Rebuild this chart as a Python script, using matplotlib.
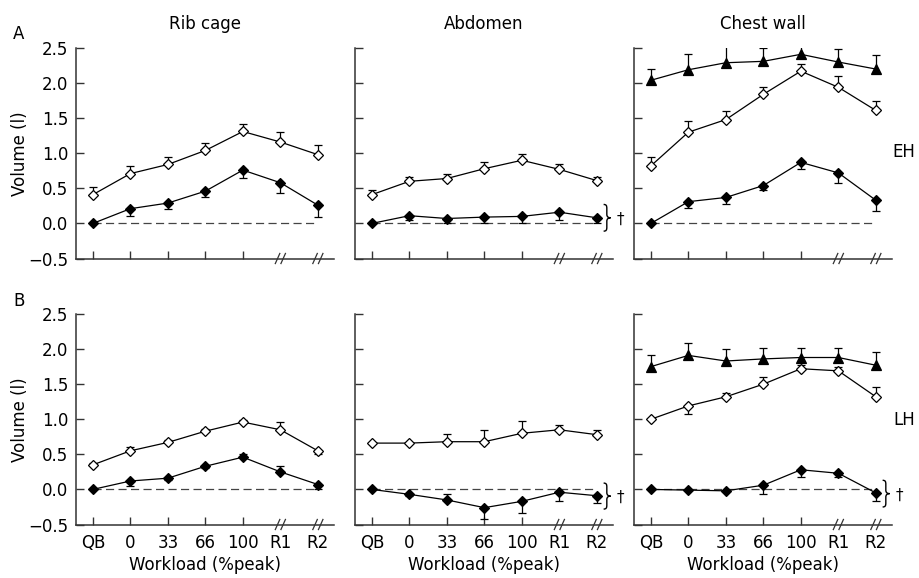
import numpy as np
import matplotlib.pyplot as plt
import matplotlib.transforms as mtransforms
from matplotlib.path import Path
from matplotlib.patches import PathPatch

plt.rcParams['font.family'] = ['DejaVu Sans']
plt.rcParams['font.size'] = 12

workload = ['QB', '0', '33', '66', '100', 'R1', 'R2']
columns = ['Rib cage', 'Abdomen', 'Chest wall']

# --- EH (row A) ---
eh_rc_open = [0.41, 0.71, 0.84, 1.04, 1.31, 1.16, 0.98]
eh_rc_open_up = [0.11, 0.11, 0.11, 0.11, 0.11, 0.14, 0.14]
eh_rc_fill = [0.0, 0.21, 0.29, 0.46, 0.76, 0.58, 0.26]
eh_rc_fill_dn = [0.0, 0.10, 0.08, 0.08, 0.11, 0.15, 0.17]

eh_ab_open = [0.41, 0.60, 0.64, 0.78, 0.90, 0.77, 0.61]
eh_ab_open_up = [0.06, 0.06, 0.07, 0.10, 0.09, 0.08, 0.05]
eh_ab_fill = [0.0, 0.11, 0.07, 0.09, 0.10, 0.16, 0.08]
eh_ab_fill_dn = [0.0, 0.06, 0.07, 0.09, 0.09, 0.11, 0.08]

eh_cw_tri = [2.04, 2.19, 2.29, 2.31, 2.41, 2.30, 2.20]
eh_cw_tri_up = [0.16, 0.22, 0.24, 0.19, 0.17, 0.18, 0.20]
eh_cw_open = [0.82, 1.30, 1.48, 1.84, 2.17, 1.94, 1.61]
eh_cw_open_up = [0.12, 0.16, 0.12, 0.11, 0.10, 0.16, 0.13]
eh_cw_fill = [0.0, 0.31, 0.37, 0.54, 0.87, 0.72, 0.33]
eh_cw_fill_dn = [0.0, 0.09, 0.09, 0.07, 0.10, 0.14, 0.16]

# --- LH (row B) ---
lh_rc_open = [0.35, 0.55, 0.67, 0.83, 0.96, 0.85, 0.55]
lh_rc_open_up = [0.02, 0.06, 0.03, 0.03, 0.03, 0.11, 0.0]
lh_rc_open_dn = [0.0, 0.0, 0.0, 0.0, 0.0, 0.0, 0.05]
lh_rc_fill = [0.0, 0.12, 0.16, 0.33, 0.46, 0.25, 0.07]
lh_rc_fill_up = [0.0, 0.0, 0.0, 0.0, 0.04, 0.09, 0.0]
lh_rc_fill_dn = [0.0, 0.07, 0.03, 0.03, 0.0, 0.0, 0.07]

lh_ab_open = [0.66, 0.66, 0.68, 0.68, 0.80, 0.85, 0.78]
lh_ab_open_up = [0.0, 0.0, 0.11, 0.16, 0.18, 0.07, 0.07]
lh_ab_fill = [0.0, -0.07, -0.15, -0.26, -0.17, -0.04, -0.09]
lh_ab_fill_up = [0.0, 0.0, 0.09, 0.0, 0.0, 0.0, 0.0]
lh_ab_fill_dn = [0.0, 0.03, 0.0, 0.16, 0.17, 0.13, 0.11]

lh_cw_tri = [1.75, 1.91, 1.83, 1.86, 1.88, 1.88, 1.77]
lh_cw_tri_up = [0.16, 0.17, 0.17, 0.16, 0.14, 0.14, 0.19]
lh_cw_open = [1.00, 1.19, 1.32, 1.50, 1.72, 1.69, 1.32]
lh_cw_open_up = [0.0, 0.0, 0.06, 0.10, 0.06, 0.06, 0.14]
lh_cw_open_dn = [0.0, 0.11, 0.0, 0.0, 0.0, 0.0, 0.0]
lh_cw_fill = [0.0, -0.01, -0.02, 0.06, 0.28, 0.23, -0.05]
lh_cw_fill_dn = [0.0, 0.0, 0.0, 0.12, 0.11, 0.06, 0.12]

# significance braces: (row, col, top, bottom)
braces = [(0, 1, 0.27, -0.11), (1, 1, 0.09, -0.28), (1, 2, 0.13, -0.25)]

zero = [0.0] * 7
# series per panel: (values, err_down, err_up, marker, face)
panels = {
    (0, 0): [(eh_rc_open, zero, eh_rc_open_up, 'D', 'white'),
             (eh_rc_fill, eh_rc_fill_dn, zero, 'D', 'black')],
    (0, 1): [(eh_ab_open, zero, eh_ab_open_up, 'D', 'white'),
             (eh_ab_fill, eh_ab_fill_dn, zero, 'D', 'black')],
    (0, 2): [(eh_cw_tri, zero, eh_cw_tri_up, '^', 'black'),
             (eh_cw_open, zero, eh_cw_open_up, 'D', 'white'),
             (eh_cw_fill, eh_cw_fill_dn, zero, 'D', 'black')],
    (1, 0): [(lh_rc_open, lh_rc_open_dn, lh_rc_open_up, 'D', 'white'),
             (lh_rc_fill, lh_rc_fill_dn, lh_rc_fill_up, 'D', 'black')],
    (1, 1): [(lh_ab_open, zero, lh_ab_open_up, 'D', 'white'),
             (lh_ab_fill, lh_ab_fill_dn, lh_ab_fill_up, 'D', 'black')],
    (1, 2): [(lh_cw_tri, zero, lh_cw_tri_up, '^', 'black'),
             (lh_cw_open, lh_cw_open_dn, lh_cw_open_up, 'D', 'white'),
             (lh_cw_fill, lh_cw_fill_dn, zero, 'D', 'black')],
}

W, H = 919, 578
fig = plt.figure(figsize=(W / 100, H / 100), dpi=100)

col_left = [76, 355, 634]
row_top = [48, 314]
ax_w, ax_h = 258, 210.5
x = np.arange(7)


def draw_series(ax, y, dn, up, marker, face):
    y, dn, up = np.array(y), np.array(dn), np.array(up)
    for err, sign in ((up, 1), (dn, -1)):
        m = err > 0
        ends = y[m] + sign * err[m]
        ax.vlines(x[m], y[m], ends, color='black', lw=0.9, zorder=2)
        ax.plot(x[m], ends, ls='none', marker='_', ms=6, mew=0.9,
                color='black', zorder=2)
    ms = 6.5 if marker == '^' else 4.6
    ax.plot(x, y, color='black', lw=0.9, marker=marker, ms=ms,
            mfc=face, mec='black', mew=0.9, zorder=3)


def draw_brace(ax, xd, top, bot):
    # curly brace spanning top..bot (data units), drawn in pixels
    y0 = ax.transData.transform((0, bot))[1]
    y1 = ax.transData.transform((0, top))[1]
    h = (y1 - y0) / 2
    s, t = 3.2, 7.0  # stem and tip x offsets
    verts = [(0, h),
             (s * 0.8, h), (s, h - 1.0), (s, h - 4.0),
             (s, 3.5),
             (s, 1.0), (s + 1.5, 0), (t, 0),
             (s + 1.5, 0), (s, -1.0), (s, -3.5),
             (s, -h + 4.0),
             (s, -h + 1.0), (s * 0.8, -h), (0, -h)]
    codes = ([Path.MOVETO] + [Path.CURVE4] * 3 + [Path.LINETO]
             + [Path.CURVE4] * 6 + [Path.LINETO] + [Path.CURVE4] * 3)
    tr = mtransforms.ScaledTranslation(xd, (top + bot) / 2, ax.transData)
    patch = PathPatch(Path(verts, codes), fill=False, lw=1.0,
                      edgecolor='black', transform=mtransforms.Affine2D() + tr,
                      clip_on=False)
    ax.add_patch(patch)


for r in range(2):
    for c in range(3):
        ax = fig.add_axes([col_left[c] / W, 1 - (row_top[r] + ax_h) / H,
                           ax_w / W, ax_h / H])
        ax.set_xlim(-0.45, 6.43)
        ax.set_ylim(-0.5, 2.5)
        for s in ('top', 'right'):
            ax.spines[s].set_visible(False)
        for s in ('left', 'bottom'):
            ax.spines[s].set_color('#333333')
            ax.spines[s].set_linewidth(1.1)
        ax.hlines(0, 0, 6, colors='#444444', lw=0.9,
                  linestyles=(0, (6.5, 3.5)), zorder=1)
        for series in panels[(r, c)]:
            draw_series(ax, *series)

        ax.set_yticks([-0.5, 0.0, 0.5, 1.0, 1.5, 2.0, 2.5])
        ax.set_xticks(x)
        ax.tick_params(direction='in', length=5.5, width=1.0, color='#333333',
                       labelsize=12)
        ax.tick_params(axis='y', pad=5.5)
        ax.tick_params(axis='x', pad=7)
        if c == 0:
            ax.set_yticklabels(['\u22120.5', '0.0', '0.5', '1.0', '1.5', '2.0', '2.5'])
        else:
            ax.set_yticklabels([])
        if r == 1:
            ax.set_xticklabels(workload)
            ax.set_xlabel('Workload (%peak)', labelpad=3)
        else:
            ax.set_xticklabels([])
        if r == 0:
            ax.set_title(columns[c], pad=14, fontsize=12)
        # break marks replace the R1 / R2 ticks
        tr = mtransforms.blended_transform_factory(ax.transData, ax.transAxes)
        for i in (5, 6):
            ax.xaxis.get_major_ticks()[i].tick1line.set_visible(False)
            for dx in (-0.075, 0.075):
                ax.plot([x[i] + dx - 0.06, x[i] + dx + 0.06], [-0.024, 0.024],
                        color='#333333', lw=0.9, transform=tr, clip_on=False)

        for br, bc, top, bot in braces:
            if (br, bc) == (r, c):
                draw_brace(ax, 6.18, top, bot)
                ax.text(6.52, (top + bot) / 2 - 0.02, '\u2020', ha='left',
                        va='center', fontsize=11, clip_on=False)

        if c == 0:
            fig.text(20 / W, 1 - (row_top[r] + ax_h / 2) / H, 'Volume (l)',
                     rotation=90, ha='center', va='center', fontsize=12)

fig.text(19 / W, 1 - 34 / H, 'A', ha='center', va='center', fontsize=12)
fig.text(19 / W, 1 - 301 / H, 'B', ha='center', va='center', fontsize=12)
fig.text(892 / W, 1 - 152 / H, 'EH', ha='left', va='center', fontsize=12)
fig.text(893 / W, 1 - 420 / H, 'LH', ha='left', va='center', fontsize=12)

fig.savefig('out.png', dpi=100)
